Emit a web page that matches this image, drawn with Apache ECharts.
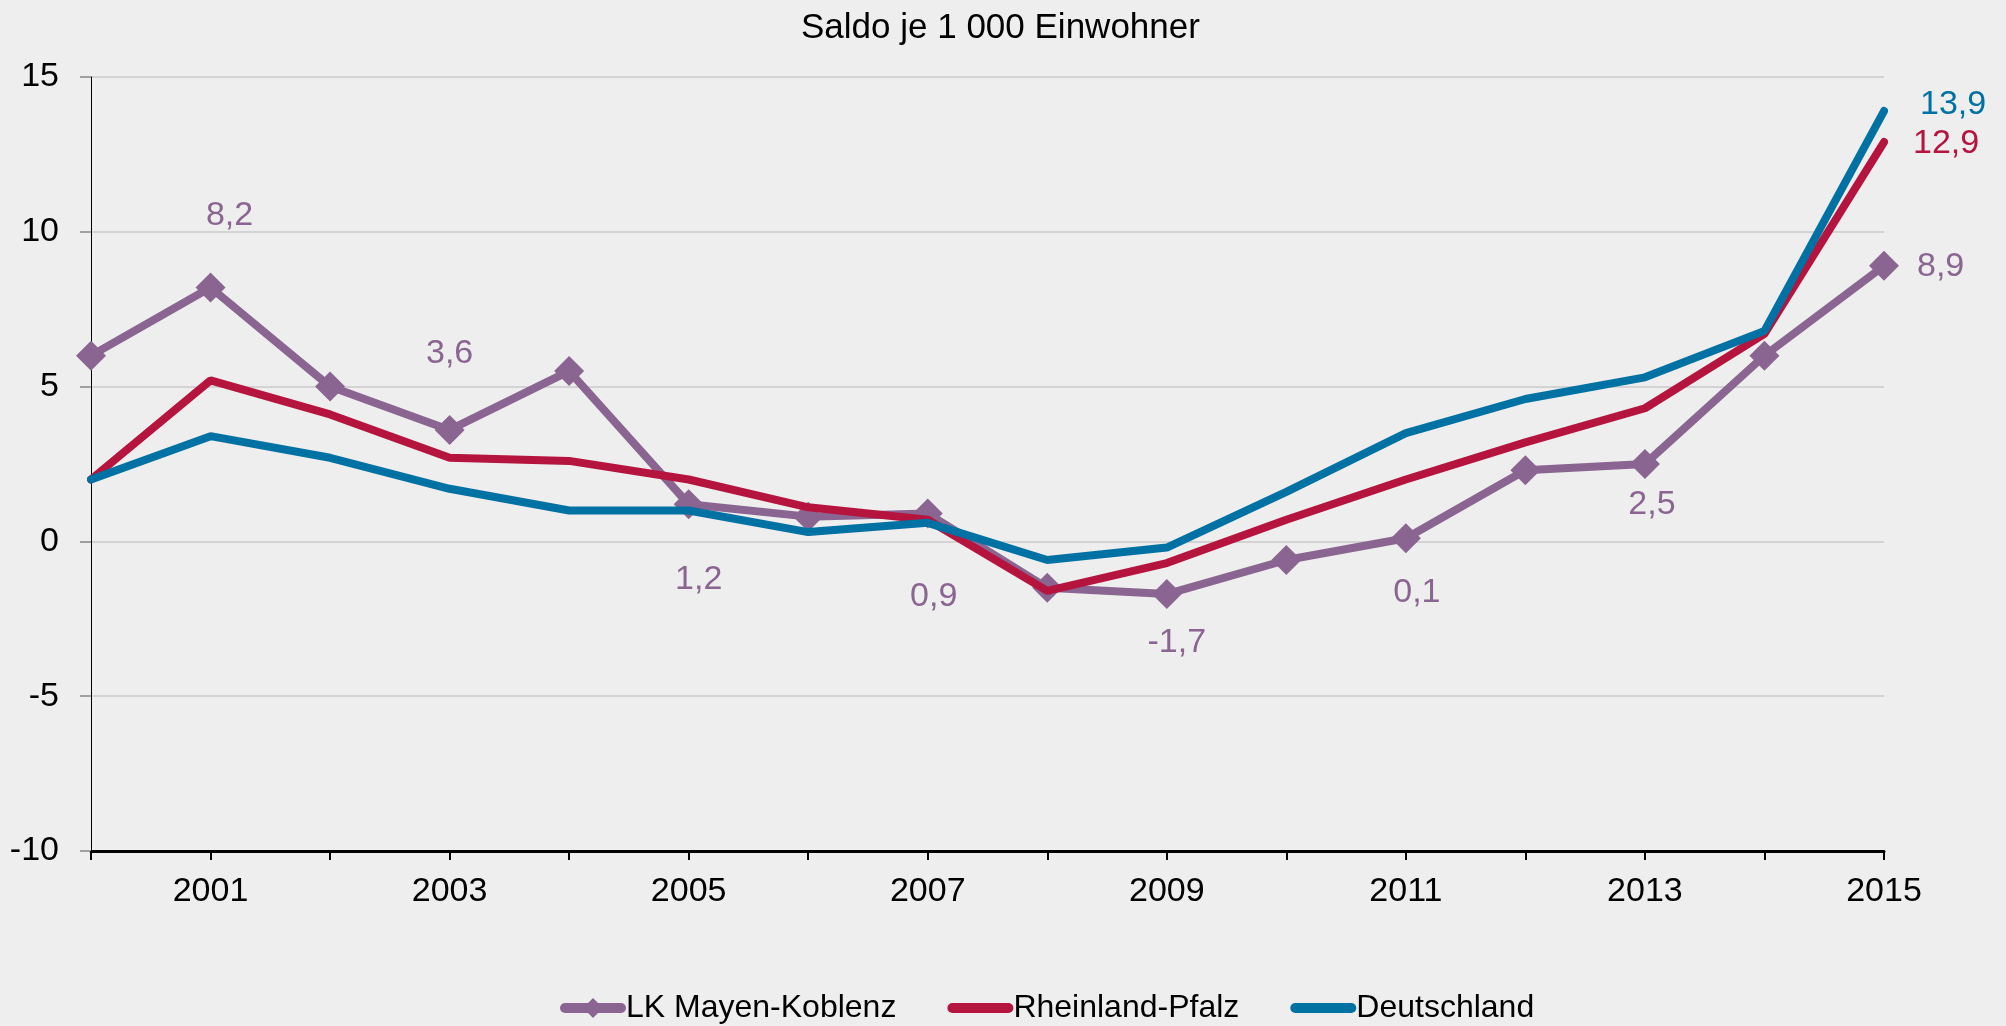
<!DOCTYPE html>
<html>
<head>
<meta charset="utf-8">
<title>Saldo je 1 000 Einwohner</title>
<script src="https://cdn.jsdelivr.net/npm/echarts@6/dist/echarts.min.js"></script>
<style>
  html, body { margin: 0; padding: 0; background: #eeeeee; }
  #chart { width: 2006px; height: 1026px; }
</style>
</head>
<body>
<div id="chart"></div>
<script>
// Wanderungssaldo je 1 000 Einwohner, 2000–2015
const years = ['2000', '2001', '2002', '2003', '2004', '2005', '2006', '2007',
               '2008', '2009', '2010', '2011', '2012', '2013', '2014', '2015'];
const mayenKoblenz   = [6.0, 8.2, 5.0, 3.6, 5.5, 1.2, 0.8, 0.9, -1.5, -1.7, -0.6, 0.1, 2.3, 2.5, 6.0, 8.9];
const rheinlandPfalz = [2.0, 5.2, 4.1, 2.7, 2.6, 2.0, 1.1, 0.7, -1.6, -0.7, 0.7, 2.0, 3.2, 4.3, 6.7, 12.9];
const deutschland    = [2.0, 3.4, 2.7, 1.7, 1.0, 1.0, 0.3, 0.6, -0.6, -0.2, 1.6, 3.5, 4.6, 5.3, 6.8, 13.9];
const seriesNames = ['LK Mayen-Koblenz', 'Rheinland-Pfalz', 'Deutschland'];
const yTicks = { min: -10, max: 15, step: 5 };

const FONT = 'Liberation Sans, Arial, sans-serif';
const PURPLE = '#8b6591';
const RED = '#b5143e';
const BLUE = '#0071a3';

// Value labels on the district line: label centre offset from the marker
const labelPlacement = {
  1:  [19, -72],
  3:  [0, -76],
  5:  [10, 75],
  7:  [6, 83],
  9:  [10, 49],
  11: [11, 54],
  13: [7, 41]
};

const fmt = v => String(v).replace('.', ',');

const districtData = mayenKoblenz.map((v, i) => {
  if (labelPlacement[i]) {
    return { value: v, label: { show: true, position: 'inside', offset: labelPlacement[i] } };
  }
  if (i === mayenKoblenz.length - 1) {
    return { value: v, label: { show: true, position: 'right', distance: 18, offset: [0, 1] } };
  }
  return v;
});

const chart = echarts.init(document.getElementById('chart'), null, { renderer: 'canvas' });

chart.setOption({
  backgroundColor: '#eeeeee',
  animation: false,
  textStyle: { fontFamily: FONT },
  title: {
    text: 'Saldo je 1 000 Einwohner',
    left: 796,
    top: 6,
    textStyle: { fontFamily: FONT, fontSize: 35, fontWeight: 'normal', color: '#000' }
  },
  legend: {
    // the two plain lines get no marker in their legend key
    data: [
      { name: seriesNames[0] },
      { name: seriesNames[1], itemStyle: { opacity: 0 } },
      { name: seriesNames[2], itemStyle: { opacity: 0 } }
    ],
    left: 555,
    top: 987,
    itemWidth: 56,
    itemHeight: 25,
    itemGap: 51,
    lineStyle: { width: 10, cap: 'round' },
    textStyle: { fontFamily: FONT, fontSize: 32, color: '#000' }
  },
  grid: { left: 91, right: 122, top: 77, bottom: 175, containLabel: false },
  xAxis: {
    type: 'category',
    data: years,
    boundaryGap: false,
    axisLine: { show: true, onZero: false, lineStyle: { color: '#000', width: 3 } },
    axisTick: { show: true, interval: 0, length: 9, lineStyle: { color: '#000', width: 2 } },
    axisLabel: {
      interval: (index) => index % 2 === 1,
      margin: 24,
      fontFamily: FONT, fontSize: 34, color: '#000'
    },
    splitLine: { show: false }
  },
  yAxis: {
    type: 'value',
    min: yTicks.min,
    max: yTicks.max,
    interval: yTicks.step,
    axisLine: { show: true, lineStyle: { color: '#000', width: 1 } },
    axisTick: { show: true, length: 11, lineStyle: { color: '#a0a0a0', width: 2 } },
    axisLabel: { margin: 32, fontFamily: FONT, fontSize: 34, color: '#000' },
    splitLine: { show: true, lineStyle: { color: '#d3d3d3', width: 2 } }
  },
  series: [
    {
      name: seriesNames[0],
      type: 'line',
      data: districtData,
      symbol: 'diamond',
      symbolSize: 30,
      lineStyle: { color: PURPLE, width: 8 },
      itemStyle: { color: PURPLE },
      label: {
        show: false,
        formatter: p => fmt(p.value),
        fontFamily: FONT, fontSize: 34, color: PURPLE
      },
      z: 2
    },
    {
      name: seriesNames[1],
      type: 'line',
      data: rheinlandPfalz,
      symbol: 'none',
      lineStyle: { color: RED, width: 8, cap: 'round' },
      itemStyle: { color: RED },
      endLabel: {
        show: true,
        formatter: p => fmt(p.value),
        distance: 29,
        offset: [0, 2],
        fontFamily: FONT, fontSize: 34, color: RED
      },
      z: 3
    },
    {
      name: seriesNames[2],
      type: 'line',
      data: deutschland,
      symbol: 'none',
      lineStyle: { color: BLUE, width: 8, cap: 'round' },
      itemStyle: { color: BLUE },
      endLabel: {
        show: true,
        formatter: p => fmt(p.value),
        distance: 36,
        offset: [0, -6],
        fontFamily: FONT, fontSize: 34, color: BLUE
      },
      z: 4
    }
  ]
});
</script>
</body>
</html>
